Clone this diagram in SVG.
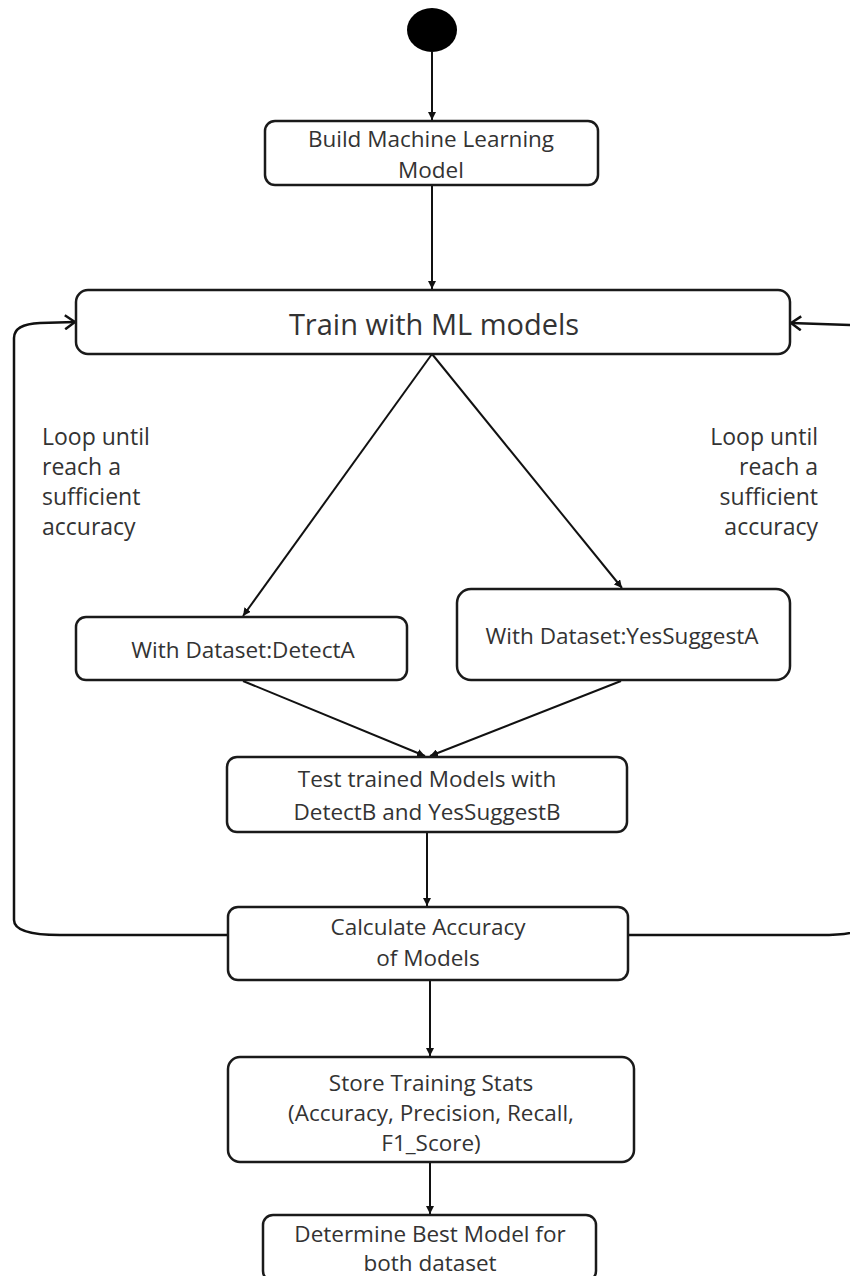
<svg xmlns="http://www.w3.org/2000/svg" width="850" height="1276" viewBox="0 0 850 1276">
  <style>
    .box { fill: #ffffff; stroke: #1a1a1a; stroke-width: 2.5; }
    .lbl { font-family: "Open Sans", "Liberation Sans", sans-serif; font-size: 22.5px; fill: #333333; text-anchor: middle; }
    .big { font-size: 29px; }
    .note { font-family: "Open Sans", "Liberation Sans", sans-serif; font-size: 23px; fill: #333333; }
    .edge { fill: none; stroke: #111111; stroke-width: 2; }
    .loop { fill: none; stroke: #111111; stroke-width: 2.5; }
  </style>
  <defs>
    <marker id="tip" viewBox="0 0 10 10" refX="10" refY="5" markerWidth="4" markerHeight="4" orient="auto" markerUnits="strokeWidth">
      <path d="M0,0 L10,5 L0,10 z" fill="#111111"/>
    </marker>
    <marker id="open" viewBox="0 0 12 16" refX="11" refY="8" markerWidth="12" markerHeight="16" orient="auto" markerUnits="userSpaceOnUse">
      <path d="M1,1 L11,8 L1,15" fill="none" stroke="#111111" stroke-width="2.5"/>
    </marker>
  </defs>

  <!-- connectors -->
  <g id="connectors">
    <line class="edge" x1="432" y1="52" x2="432" y2="120" marker-end="url(#tip)"/>
    <line class="edge" x1="432" y1="185" x2="432" y2="289" marker-end="url(#tip)"/>
    <line class="edge" x1="432" y1="354" x2="243" y2="616" marker-end="url(#tip)"/>
    <line class="edge" x1="432" y1="354" x2="622" y2="588" marker-end="url(#tip)"/>
    <line class="edge" x1="243" y1="681" x2="425" y2="756" marker-end="url(#tip)"/>
    <line class="edge" x1="621" y1="681" x2="430" y2="756" marker-end="url(#tip)"/>
    <line class="edge" x1="427" y1="833" x2="427" y2="906" marker-end="url(#tip)"/>
    <line class="edge" x1="430" y1="980" x2="430" y2="1056" marker-end="url(#tip)"/>
    <line class="edge" x1="430" y1="1162" x2="430" y2="1214" marker-end="url(#tip)"/>
    <!-- feedback loops back to training -->
    <path class="loop" d="M228,935 L60,935 Q14,935 14,920 L14,338 Q14,324 40,323 L75,322" marker-end="url(#open)"/>
    <path class="loop" d="M628,935 L820,935 Q850,935 860,930 M852,325 L791,323" marker-end="url(#open)"/>
  </g>

  <!-- start -->
  <g id="start">
    <ellipse cx="432" cy="30" rx="25" ry="22" fill="#000000"/>
  </g>

  <g id="build">
    <rect class="box" x="265" y="121" width="333" height="64" rx="10"/>
    <text class="lbl" x="431" y="147">Build Machine Learning</text>
    <text class="lbl" x="431" y="178">Model</text>
  </g>

  <g id="train">
    <rect class="box" x="76" y="290" width="714" height="64" rx="12"/>
    <text class="lbl big" x="434" y="335">Train with ML models</text>
  </g>

  <g id="note-left">
    <text class="note" x="42" y="445">Loop until</text>
    <text class="note" x="42" y="475">reach a</text>
    <text class="note" x="42" y="505">sufficient</text>
    <text class="note" x="42" y="535">accuracy</text>
  </g>

  <g id="note-right">
    <text class="note" x="818" y="445" text-anchor="end">Loop until</text>
    <text class="note" x="818" y="475" text-anchor="end">reach a</text>
    <text class="note" x="818" y="505" text-anchor="end">sufficient</text>
    <text class="note" x="818" y="535" text-anchor="end">accuracy</text>
  </g>

  <g id="detectA">
    <rect class="box" x="76" y="617" width="331" height="63" rx="10"/>
    <text class="lbl" x="243" y="658">With Dataset:DetectA</text>
  </g>

  <g id="yesSuggestA">
    <rect class="box" x="457" y="589" width="333" height="91" rx="14"/>
    <text class="lbl" x="622" y="644">With Dataset:YesSuggestA</text>
  </g>

  <g id="test">
    <rect class="box" x="227" y="757" width="400" height="75" rx="10"/>
    <text class="lbl" x="427" y="787">Test trained Models with</text>
    <text class="lbl" x="427" y="820">DetectB and YesSuggestB</text>
  </g>

  <g id="calculate">
    <rect class="box" x="228" y="907" width="400" height="73" rx="10"/>
    <text class="lbl" x="428" y="935">Calculate Accuracy</text>
    <text class="lbl" x="428" y="966">of Models</text>
  </g>

  <g id="store">
    <rect class="box" x="228" y="1057" width="406" height="105" rx="12"/>
    <text class="lbl" x="431" y="1091">Store Training Stats</text>
    <text class="lbl" x="431" y="1121">(Accuracy, Precision, Recall,</text>
    <text class="lbl" x="431" y="1151">F1_Score)</text>
  </g>

  <g id="best">
    <rect class="box" x="263" y="1215" width="333" height="66" rx="10"/>
    <text class="lbl" x="430" y="1242">Determine Best Model for</text>
    <text class="lbl" x="430" y="1271">both dataset</text>
  </g>
</svg>
